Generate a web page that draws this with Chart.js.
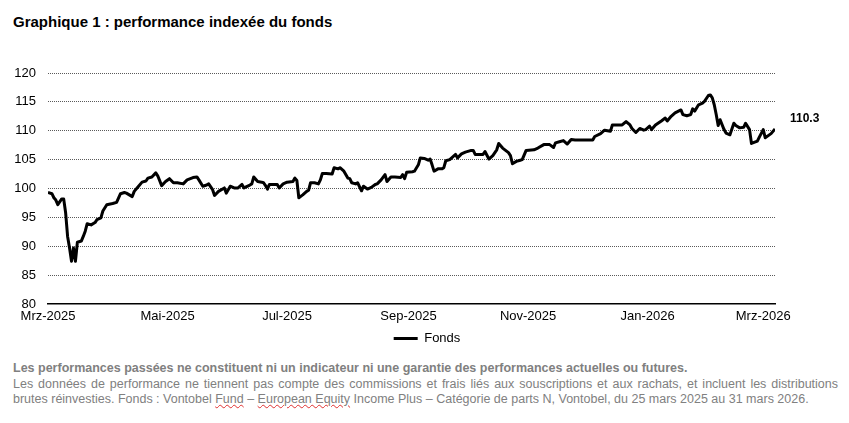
<!DOCTYPE html>
<html>
<head>
<meta charset="utf-8">
<script src="https://cdn.jsdelivr.net/npm/chart.js@4.4.0/dist/chart.umd.min.js"></script>
<style>
    html, body { margin: 0; padding: 0; background: #fff; }
    #wrap { position: relative; width: 849px; height: 423px; font-family: Arial, "Liberation Sans", sans-serif; }
    #title { position: absolute; left: 13px; top: 13px; font-weight: bold; font-size: 15px; color: #000; }
    #chartBox { position: absolute; left: 0; top: 0; }
    #note { position: absolute; left: 13px; top: 361px; width: 825px; font-size: 12.5px; line-height: 15.5px; color: #808080; }
    #note .lead { font-weight: bold; white-space: nowrap; }
    #note .body { text-align: justify; }
    .typo { text-decoration: underline wavy #e03030; text-decoration-thickness: 1px; }
</style>
</head>
<body>
<div id="wrap">
    <div id="title">Graphique 1 : performance indexée du fonds</div>
    <canvas id="chartBox" width="849" height="359"></canvas>
    <div id="note">
        <div class="lead">Les performances passées ne constituent ni un indicateur ni une garantie des performances actuelles ou futures.</div>
        <div class="body">Les données de performance ne tiennent pas compte des commissions et frais liés aux souscriptions et aux rachats, et incluent les distributions brutes réinvesties. Fonds : Vontobel <span class="typo">Fund</span> – <span class="typo">European Equity</span> Income Plus – Catégorie de parts N, Vontobel, du 25 mars 2025 au 31 mars 2026.</div>
    </div>
</div>
<script>
// days since 25 Mar 2025
const dayOffsets = [
    0, 2, 3, 4, 5, 7, 8, 9, 10, 11,
    12, 13, 14, 15, 17, 18, 19, 20, 22, 24,
    25, 27, 28, 30, 33, 35, 37, 39, 40, 43,
    44, 46, 48, 50, 51, 53, 55, 56, 58, 60,
    62, 64, 66, 69, 71, 74, 76, 77, 79, 81,
    82, 84, 85, 87, 90, 91, 93, 95, 97, 99,
    100, 103, 104, 105, 107, 109, 110, 111, 112, 113,
    115, 117, 118, 120, 122, 125, 126, 127, 128, 130,
    132, 133, 134, 136, 138, 139, 140, 142, 145, 146,
    148, 149, 151, 153, 154, 155, 157, 158, 160, 161,
    163, 165, 167, 168, 170, 172, 173, 175, 177, 180,
    181, 182, 183, 186, 187, 189, 190, 192, 194, 195,
    196, 197, 199, 201, 202, 203, 205, 207, 208, 209,
    211, 213, 216, 217, 218, 222, 223, 225, 227, 229,
    230, 232, 235, 236, 237, 239, 241, 242, 244, 248,
    250, 253, 256, 258, 259, 261, 263, 265, 267, 269,
    271, 278, 279, 282, 284, 287, 288, 291, 293, 295,
    297, 298, 300, 302, 304, 305, 307, 308, 310, 313,
    315, 316, 318, 320, 323, 324, 326, 328, 329, 330,
    332, 334, 335, 337, 338, 339, 340, 341, 342, 343,
    345, 346, 348, 350, 351, 353, 355, 356, 358, 359,
    362, 363, 365, 366, 369, 371
];

const fundValues = [
    99.3, 99.1, 98.4, 98.0, 97.2, 98.2, 98.2, 95.8, 91.7, 89.7,
    87.4, 89.7, 87.4, 90.7, 90.9, 91.7, 92.6, 93.9, 93.7, 94.1,
    94.6, 94.9, 96.1, 97.2, 97.4, 97.6, 99.1, 99.3, 99.2, 98.6,
    99.5, 100.3, 101.1, 101.3, 101.8, 102.0, 102.7, 102.2, 100.5, 101.2,
    101.7, 101.0, 101.0, 100.8, 101.5, 101.9, 102.0, 101.5, 100.4, 100.6,
    100.8, 99.8, 98.8, 99.5, 100.1, 99.2, 100.4, 100.1, 100.1, 100.7,
    100.1, 100.6, 100.8, 102.0, 101.2, 101.1, 101.0, 100.5, 99.9, 100.7,
    100.7, 100.7, 100.1, 100.8, 101.1, 101.2, 101.8, 101.4, 98.4, 98.9,
    99.5, 99.7, 101.0, 101.0, 100.8, 101.5, 102.6, 102.6, 102.5, 103.6,
    103.4, 103.6, 103.0, 101.8, 101.7, 101.0, 100.8, 101.0, 99.6, 100.4,
    99.9, 100.2, 100.7, 100.8, 101.5, 102.4, 101.2, 102.0, 102.0, 101.9,
    102.4, 101.7, 102.8, 102.9, 103.0, 104.1, 105.3, 105.2, 104.9, 105.1,
    104.1, 103.0, 103.4, 103.4, 103.6, 104.8, 105.0, 105.6, 105.9, 105.3,
    106.0, 106.3, 106.6, 106.6, 105.9, 105.9, 106.4, 105.1, 105.7, 106.7,
    107.8, 107.0, 106.2, 105.7, 104.3, 104.7, 104.9, 105.0, 106.6, 106.7,
    107.0, 107.6, 107.6, 107.1, 107.9, 108.1, 108.3, 107.7, 108.5, 108.4,
    108.4, 108.4, 109.0, 109.5, 110.1, 109.9, 111.0, 111.0, 111.0, 111.6,
    111.0, 110.4, 109.7, 110.4, 110.1, 110.2, 110.8, 110.2, 111.0, 111.7,
    112.2, 111.7, 112.5, 113.1, 113.6, 112.8, 112.6, 112.8, 113.8, 113.4,
    114.5, 114.8, 115.1, 116.1, 116.2, 115.7, 114.5, 112.8, 110.9, 111.9,
    110.2, 109.6, 109.3, 111.3, 110.9, 110.5, 110.6, 111.3, 110.2, 107.8,
    108.2, 108.9, 110.2, 108.8, 109.5, 110.3
];

const tickDays = [0, 61, 122, 184, 245, 306, 365];
const tickLabels = ["Mrz-2025", "Mai-2025", "Jul-2025", "Sep-2025", "Nov-2025", "Jan-2026", "Mrz-2026"];
const seriesName = "Fonds";

const FONT = "Arial, 'Liberation Sans', sans-serif";

// value printed next to the last point
const endLabel = {
    id: "endLabel",
    afterDatasetsDraw(chart) {
        const meta = chart.getDatasetMeta(0);
        const last = meta.data[meta.data.length - 1];
        const ctx = chart.ctx;
        ctx.save();
        ctx.font = "bold 12px " + FONT;
        ctx.fillStyle = "#000";
        ctx.textBaseline = "middle";
        ctx.fillText(fundValues[fundValues.length - 1].toFixed(1), last.x + 15, last.y - 10);
        ctx.restore();
    }
};

new Chart(document.getElementById("chartBox"), {
    type: "line",
    data: {
        datasets: [{
            label: seriesName,
            data: dayOffsets.map((d, i) => ({ x: d, y: fundValues[i] })),
            borderColor: "#000",
            backgroundColor: "#000",
            borderWidth: 3,
            borderJoinStyle: "round",
            pointRadius: 0,
            tension: 0
        }]
    },
    options: {
        responsive: false,
        animation: false,
        layout: { padding: { left: 13, right: 8, top: 73, bottom: 4 } },
        plugins: {
            tooltip: { enabled: false },
            legend: {
                position: "bottom",
                labels: {
                    color: "#000",
                    font: { family: FONT, size: 13 },
                    boxWidth: 24,
                    boxHeight: 3,
                    padding: 6,
                    generateLabels: (chart) =>
                        Chart.defaults.plugins.legend.labels.generateLabels(chart).map(l => ({
                            ...l, fillStyle: "#000", strokeStyle: "rgba(0,0,0,0)"
                        }))
                }
            }
        },
        scales: {
            x: {
                type: "linear",
                min: 0,
                max: 371,
                grid: { display: false, drawTicks: false },
                border: { display: true, color: "#000", width: 1.5 },
                afterBuildTicks: (s) => { s.ticks = tickDays.map(v => ({ value: v })); },
                afterFit: (s) => { s.height = 22; },
                ticks: {
                    color: "#000",
                    font: { family: FONT, size: 13 },
                    padding: 5,
                    autoSkip: false,
                    maxRotation: 0,
                    callback: (v) => {
                        const i = tickDays.indexOf(v);
                        return i >= 0 ? tickLabels[i] : "";
                    }
                }
            },
            y: {
                min: 80,
                max: 120,
                afterFit: (s) => { s.width = 35; },
                grid: {
                    drawTicks: false,
                    lineWidth: 1,
                    color: (c) => (c.tick && c.tick.value === 80) ? "rgba(0,0,0,0)" : "#5a5a5a"
                },
                border: { display: false, dash: [1, 1] },
                ticks: {
                    stepSize: 5,
                    color: "#000",
                    font: { family: FONT, size: 13 },
                    padding: 12
                }
            },
            // empty right axis, only reserves room for the end label
            yRight: {
                position: "right",
                min: 80,
                max: 120,
                afterFit: (s) => { s.width = 66; },
                grid: { display: false },
                border: { display: false },
                ticks: { display: false }
            }
        }
    },
    plugins: [endLabel]
});
</script>
</body>
</html>
